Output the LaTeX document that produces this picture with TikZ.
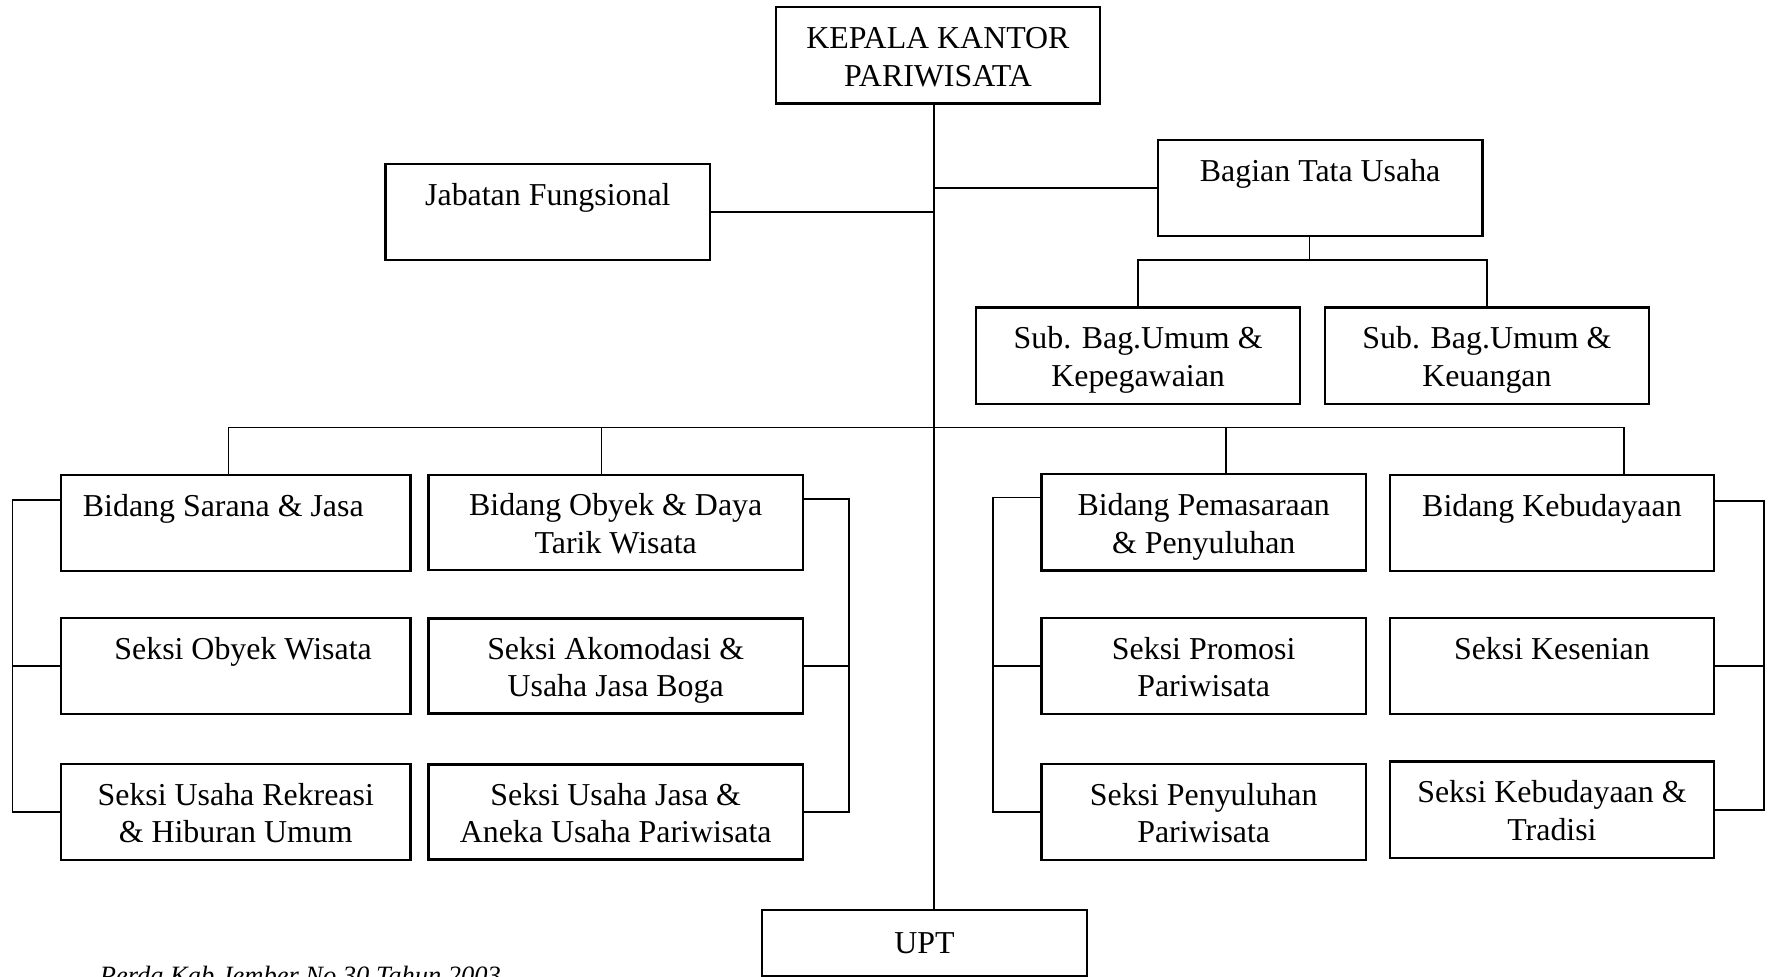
\documentclass[tikz,border=0pt]{standalone}
\usepackage{fontspec}
\setmainfont{Liberation Serif}
\begin{document}
\begin{tikzpicture}[x=0.5pt,y=-0.5pt,
  base/.style={draw,line width=1pt,inner sep=0pt,align=center,
    font=\fontsize{14.1}{16.5}\selectfont},
  box/.style={base,
    execute at begin node={\rule{0pt}{32.1pt}},
    execute at end node={\rule[-5pt]{0pt}{5pt}}},
  onebox/.style={base,
    execute at begin node={\rule{0pt}{14.2pt}},
    execute at end node={\rule[-5pt]{0pt}{5pt}}},
  wA/.style={minimum width=143.5pt,minimum height=42.5pt},
  wL/.style={minimum width=154.5pt,minimum height=42.5pt},
  wM/.style={minimum width=165.5pt,minimum height=42pt},
  link/.style={line width=0.8pt}]
\useasboundingbox (0,0) rectangle (1568,864);
\clip (0,0) rectangle (1568,864);
% boxes
\node[box,wA] (top) at (829.5,49) {KEPALA KANTOR\\PARIWISATA};
\node[box,wA] (jab) at (484.5,187.5) {Jabatan Fungsional\\~};
\node[box,wA] (bag) at (1167.5,166.5) {Bagian Tata Usaha\\~};
\node[box,wA] (sub1) at (1006.5,314.5) {Sub. Bag.Umum \&\\Kepegawaian};
\node[box,wA] (sub2) at (1315,314.5) {Sub. Bag.Umum \&\\Keuangan};
\node[box,wL] (bs) at (208.5,462.5) {Bidang Sarana \& Jasa\rule{11pt}{0pt}\\~};
\node[box,wL] (so) at (208.5,589) {\rule{6.5pt}{0pt}Seksi Obyek Wisata\\~};
\node[box,wL] (sr) at (208.5,718) {Seksi Usaha Rekreasi\\\& Hiburan Umum};
\node[box,wM] (bo) at (544.5,462) {Bidang Obyek \& Daya\\Tarik Wisata};
\node[box,wM] (sa) at (544.5,589) {Seksi Akomodasi \&\\Usaha Jasa Boga};
\node[box,wM] (sj) at (544.5,718) {Seksi Usaha Jasa \&\\Aneka Usaha Pariwisata};
\node[box,wA] (bp) at (1064.5,462) {Bidang Pemasaraan\\\& Penyuluhan};
\node[box,wA] (bk) at (1372.5,462.5) {Bidang Kebudayaan\\~};
\node[box,wA] (sp) at (1064.5,589) {Seksi Promosi\\Pariwisata};
\node[box,wA] (sk) at (1372.5,589) {Seksi Kesenian\\~};
\node[box,wA] (spy) at (1064.5,718) {Seksi Penyuluhan\\Pariwisata};
\node[box,wA] (skt) at (1372.5,716) {Seksi Kebudayaan \&\\Tradisi};
\node[onebox,wA,minimum height=29pt] (upt) at (817.5,834) {UPT};
\node[font=\fontsize{11.7}{14}\selectfont\itshape,anchor=base west,inner sep=0pt] (src) at (88,871) {Perda Kab.Jember No 30 Tahun 2003};
% connectors
\coordinate (tx) at (826,0);
\draw[link] (top.south -| tx) -- (upt.north -| tx);
\draw[link] (jab.east) -- (jab.east -| tx);
\draw[link] (bag.west) -- (bag.west -| tx);
\coordinate (bj) at (1158,230);
\draw[link] (bag.south -| bj) -- (bj);
\draw[link] (sub1.north) |- (bj) -| (sub2.north);
\coordinate (d1) at (202,378);
\coordinate (d2) at (532,378);
\coordinate (d3) at (1084,378);
\coordinate (d4) at (1436,378);
\draw[link] (d1) -- (d4);
\draw[link] (d1) -- (d1 |- bs.north);
\draw[link] (d2) -- (d2 |- bo.north);
\draw[link] (d3) -- (d3 |- bp.north);
\draw[link] (d4) -- (d4 |- bk.north);
\coordinate (lb) at (11,442);
\draw[link] (bs.west |- lb) -- (lb) |- (sr.west);
\draw[link] (so.west) -- (so.west -| lb);
\coordinate (rb) at (751,441);
\draw[link] (bo.east |- rb) -- (rb) |- (sj.east);
\draw[link] (sa.east) -- (sa.east -| rb);
\coordinate (pb) at (878,440);
\draw[link] (bp.west |- pb) -- (pb) |- (spy.west);
\draw[link] (sp.west) -- (sp.west -| pb);
\coordinate (kb) at (1560,443);
\draw[link] (bk.east |- kb) -- (kb) |- (skt.east);
\draw[link] (sk.east) -- (sk.east -| kb);
\end{tikzpicture}
\end{document}
